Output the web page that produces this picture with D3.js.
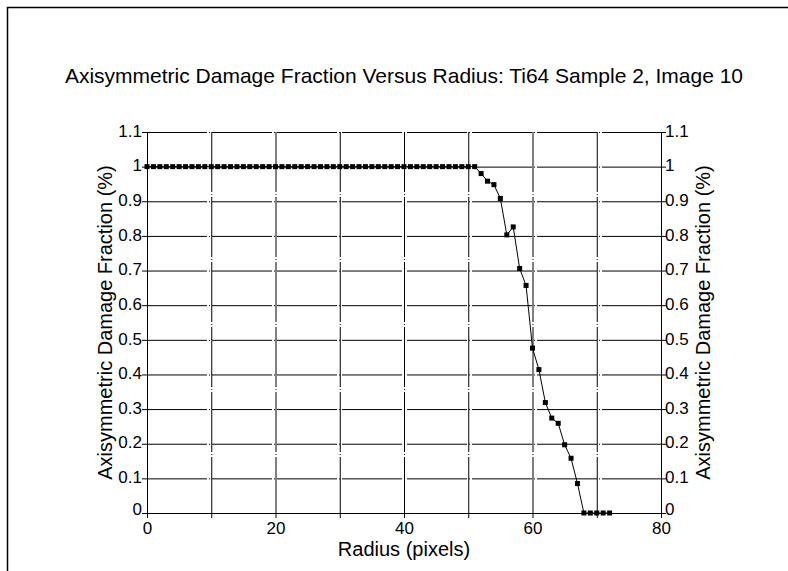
<!DOCTYPE html>
<html>
<head>
<meta charset="utf-8">
<script src="https://cdn.jsdelivr.net/npm/d3@7"></script>
<style>
    body { margin: 0; background: #fff; }
    svg { font-family: Arial, "Liberation Sans", sans-serif; }
    .grid line { stroke: #000; stroke-width: 1; stroke-dasharray: 60,2,1,2; }
    .grid path { display: none; }
    .axis path, .axis line { stroke: #000; stroke-width: 1; }
    .axis text { font-size: 17px; fill: #000; }
</style>
</head>
<body>
<svg width="788" height="571"></svg>
<script>
// radius in pixels and damage fraction
var radius = [];
for (var i = 0; i <= 72; i++) radius.push(i);
var damage = [
    1, 1, 1, 1, 1, 1, 1, 1, 1, 1,
    1, 1, 1, 1, 1, 1, 1, 1, 1, 1,
    1, 1, 1, 1, 1, 1, 1, 1, 1, 1,
    1, 1, 1, 1, 1, 1, 1, 1, 1, 1,
    1, 1, 1, 1, 1, 1, 1, 1, 1, 1,
    1, 1, 0.98, 0.958, 0.948, 0.908, 0.803, 0.826, 0.706, 0.657,
    0.476, 0.414, 0.319, 0.274, 0.259, 0.197, 0.158, 0.085, 0, 0,
    0, 0, 0
];
var xTicks = [0, 20, 40, 60, 80];
var xMinorTicks = [0, 10, 20, 30, 40, 50, 60, 70, 80];
var yTicks = [0, 0.1, 0.2, 0.3, 0.4, 0.5, 0.6, 0.7, 0.8, 0.9, 1, 1.1];
var yTickLabels = ['0', '0.1', '0.2', '0.3', '0.4', '0.5', '0.6', '0.7', '0.8', '0.9', '1', '1.1'];

var svg = d3.select('svg');
var svgWidth = +svg.attr('width');
var svgHeight = +svg.attr('height');

var padding = {t: 132, r: 127, b: 58, l: 147};
var chartWidth = svgWidth - padding.l - padding.r;
var chartHeight = svgHeight - padding.t - padding.b;

// outer frame: only top and left edges are visible
svg.append('path')
    .attr('d', 'M7.5,' + svgHeight + ' V7.5 H' + svgWidth)
    .attr('fill', 'none')
    .attr('stroke', '#000')
    .attr('stroke-width', 1.5);

var xScale = d3.scaleLinear().domain([0, 80]).range([0, chartWidth]);
var yScale = d3.scaleLinear().domain([0, 1.1]).range([chartHeight, 0]);

var chartG = svg.append('g')
    .attr('transform', 'translate(' + [padding.l, padding.t] + ')');

// grid
chartG.append('g')
    .attr('class', 'grid')
    .call(d3.axisTop(xScale).tickValues(xMinorTicks.slice(1, -1)).tickSize(-chartHeight).tickFormat(''));
chartG.append('g')
    .attr('class', 'grid')
    .call(d3.axisLeft(yScale).tickValues(yTicks.slice(1)).tickSize(-chartWidth).tickFormat(''));

// axes
chartG.append('g')
    .attr('class', 'axis')
    .attr('transform', 'translate(0,' + chartHeight + ')')
    .call(d3.axisBottom(xScale).tickValues(xMinorTicks).tickSizeOuter(0).tickSize(5)
        .tickFormat(function(d) { return xTicks.indexOf(d) >= 0 ? d : ''; }))
    .call(function(g) { g.selectAll('text').attr('dy', '0.71em').attr('y', 9); });

// the "0" label sits a little above its tick, as in the original
function yLabelDy(d) { return d === 0 ? '0.08em' : '0.25em'; }

chartG.append('g')
    .attr('class', 'axis')
    .call(d3.axisLeft(yScale).tickValues(yTicks).tickSizeOuter(0).tickSize(5)
        .tickFormat(function(d, i) { return yTickLabels[i]; }))
    .call(function(g) { g.selectAll('text').attr('x', -5).attr('dy', yLabelDy); });

chartG.append('g')
    .attr('class', 'axis')
    .attr('transform', 'translate(' + chartWidth + ',0)')
    .call(d3.axisRight(yScale).tickValues(yTicks).tickSizeOuter(0).tickSize(5)
        .tickFormat(function(d, i) { return yTickLabels[i]; }))
    .call(function(g) { g.selectAll('text').attr('x', 4).attr('dy', yLabelDy); });

// data line and markers
var pts = radius.map(function(r, i) { return {r: r, v: damage[i]}; });

chartG.append('path')
    .datum(pts)
    .attr('fill', 'none')
    .attr('stroke', '#000')
    .attr('stroke-width', 1)
    .attr('d', d3.line()
        .x(function(d) { return xScale(d.r); })
        .y(function(d) { return yScale(d.v); }));

chartG.selectAll('.marker')
    .data(pts)
    .enter()
    .append('rect')
    .attr('class', 'marker')
    .attr('x', function(d) { return xScale(d.r) - 2.5; })
    .attr('y', function(d) { return yScale(d.v) - 2.5; })
    .attr('width', 5)
    .attr('height', 5)
    .attr('fill', '#000');

// titles
svg.append('text')
    .attr('x', 404)
    .attr('y', 83)
    .attr('text-anchor', 'middle')
    .style('font-size', '21px')
    .text('Axisymmetric Damage Fraction Versus Radius: Ti64 Sample 2, Image 10');

svg.append('text')
    .attr('x', padding.l + chartWidth / 2)
    .attr('y', 556)
    .attr('text-anchor', 'middle')
    .style('font-size', '20px')
    .text('Radius (pixels)');

svg.append('text')
    .attr('transform', 'translate(' + [112, padding.t + chartHeight / 2] + ') rotate(-90)')
    .attr('text-anchor', 'middle')
    .style('font-size', '20px')
    .text('Axisymmetric Damage Fraction (%)');

svg.append('text')
    .attr('transform', 'translate(' + [710, padding.t + chartHeight / 2] + ') rotate(-90)')
    .attr('text-anchor', 'middle')
    .style('font-size', '20px')
    .text('Axisymmetric Damage Fraction (%)');
</script>
</body>
</html>
